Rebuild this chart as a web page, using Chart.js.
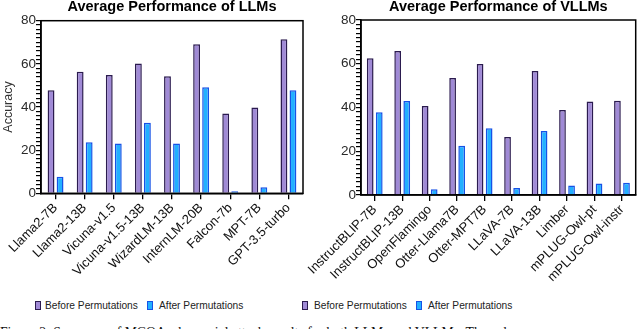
<!DOCTYPE html>
<html>
<head>
<meta charset="utf-8">
<script src="https://cdn.jsdelivr.net/npm/chart.js@4.4.0/dist/chart.umd.min.js"></script>
<style>
  html, body { margin: 0; padding: 0; background: #fff; width: 640px; height: 329px; overflow: hidden; }
  canvas { position: absolute; top: 0; }
  #llmChart { left: 0; }
  #vllmChart { left: 290px; }
  .leg { position: absolute; top: 300px; font: 10.2px "Liberation Sans", Arial, sans-serif; color: #222; white-space: nowrap; }
  .box { position: absolute; top: 301px; width: 4px; height: 7px; border: 1.5px solid; }
  .before { background: #a08ad6; border-color: #2b1b4f; }
  .after { background: #22b0ff; border-color: #1752e6; }
  #caption { position: absolute; left: 0; top: 325.5px; font: 13.7px "Liberation Serif", "Times New Roman", serif; line-height: 1; color: #111; white-space: nowrap; }
</style>
</head>
<body>
<canvas id="llmChart" width="310" height="300"></canvas>
<canvas id="vllmChart" width="350" height="300"></canvas>

<div class="box before" style="left:35px"></div><div class="leg" style="left:45px">Before Permutations</div>
<div class="box after" style="left:147px"></div><div class="leg" style="left:159px">After Permutations</div>
<div class="box before" style="left:302px"></div><div class="leg" style="left:314px">Before Permutations</div>
<div class="box after" style="left:416px"></div><div class="leg" style="left:428px">After Permutations</div>

<div id="caption">Figure 2: Summary of MCQA adversarial attack results for both LLMs and VLLMs. The values are average accuracy</div>

<script>
// data
const llmLabels = ["Llama2-7B", "Llama2-13B", "Vicuna-v1.5", "Vicuna-v1.5-13B", "WizardLM-13B", "InternLM-20B", "Falcon-7b", "MPT-7B", "GPT-3.5-turbo"];
const llmBefore = [47.8, 56.3, 54.8, 60.2, 54.3, 69.1, 37.0, 39.8, 71.4];
const llmAfter = [7.7, 23.7, 23.1, 32.7, 23.1, 49.2, 0.9, 2.8, 47.8];

const vllmLabels = ["InstructBLIP-7B", "InstructBLIP-13B", "OpenFlamingo", "Otter-Llama7B", "Otter-MPT7B", "LLaVA-7B", "LLaVA-13B", "Limber", "mPLUG-Owl-pt", "mPLUG-Owl-instr"];
const vllmBefore = [62.5, 65.8, 40.7, 53.5, 59.9, 26.5, 56.7, 38.9, 42.8, 43.1];
const vllmAfter = [37.8, 43.0, 2.6, 22.5, 30.5, 3.2, 29.3, 4.3, 5.3, 5.6];

const seriesNames = ["Before Permutations", "After Permutations"];
const yTicks = [0, 20, 40, 60, 80];

const FONT = "'Liberation Sans', Arial, sans-serif";

// box around the plot area
const frame = {
    id: "frame",
    afterDraw(chart) {
        const a = chart.chartArea, ctx = chart.ctx;
        ctx.save();
        ctx.strokeStyle = "#000";
        ctx.lineWidth = 1.5;
        ctx.strokeRect(a.left, a.top, a.right - a.left, a.bottom - a.top);
        ctx.restore();
    }
};

function makeChart(id, labels, before, after, opts) {
    return new Chart(document.getElementById(id), {
        type: "bar",
        data: {
            labels: labels,
            datasets: [{
                label: seriesNames[0],
                data: before,
                backgroundColor: "#a08ad6",
                borderColor: "#2b1b4f",
                borderWidth: 1.5
            }, {
                label: seriesNames[1],
                data: after,
                backgroundColor: "#22b0ff",
                borderColor: "#1752e6",
                borderWidth: 1.5
            }]
        },
        options: {
            responsive: false,
            animation: false,
            categoryPercentage: opts.cat,
            barPercentage: opts.bar,
            layout: { padding: { left: 0, right: opts.padRight, top: 0, bottom: 0 } },
            plugins: {
                legend: { display: false },
                tooltip: { enabled: false },
                title: {
                    display: true,
                    text: opts.title,
                    fullSize: false,
                    color: "#000",
                    font: { family: FONT, size: 14.5, weight: "bold", lineHeight: 1 },
                    padding: { top: 0, bottom: opts.titlePad }
                }
            },
            scales: {
                x: {
                    grid: { display: true, drawOnChartArea: false, drawTicks: true, offset: false, tickLength: 6, color: "#000", tickColor: "#000", lineWidth: 1.3, tickWidth: 1.3 },
                    border: { color: "#000", width: 1.5 },
                    ticks: {
                        autoSkip: false, minRotation: 45, maxRotation: 45, padding: 1,
                        color: "#111", font: { family: FONT, size: 13 }
                    },
                    afterFit: s => { s.height = opts.xHeight; }
                },
                y: {
                    min: 0, max: 80,
                    grid: {
                        display: true, drawOnChartArea: false, drawTicks: true, tickLength: 5, color: "#000", tickColor: "#000", lineWidth: 1.2,
                        tickWidth: 1.2
                    },
                    border: { color: "#000", width: 1.5 },
                    ticks: {
                        stepSize: 2, autoSkip: false, padding: 0,
                        color: "#2a2a2a", font: { family: FONT, size: 13.5 },
                        callback: v => yTicks.includes(v) ? v : ""
                    },
                    title: {
                        display: opts.yTitle !== "",
                        text: opts.yTitle,
                        color: "#333",
                        font: { family: FONT, size: 12.5 },
                        padding: { top: 1, bottom: 0 }
                    },
                    afterFit: s => { s.width = opts.yWidth; }
                }
            }
        },
        plugins: [frame]
    });
}

makeChart("llmChart", llmLabels, llmBefore, llmAfter, {
    title: "Average Performance of LLMs", yTitle: "Accuracy",
    cat: 0.62, bar: 0.76, padRight: 7, titlePad: 6.2, xHeight: 106.7, yWidth: 41
});

makeChart("vllmChart", vllmLabels, vllmBefore, vllmAfter, {
    title: "Average Performance of VLLMs", yTitle: "",
    cat: 0.66, bar: 0.74, padRight: 4.3, titlePad: 5.5, xHeight: 105, yWidth: 71
});
</script>
</body>
</html>
